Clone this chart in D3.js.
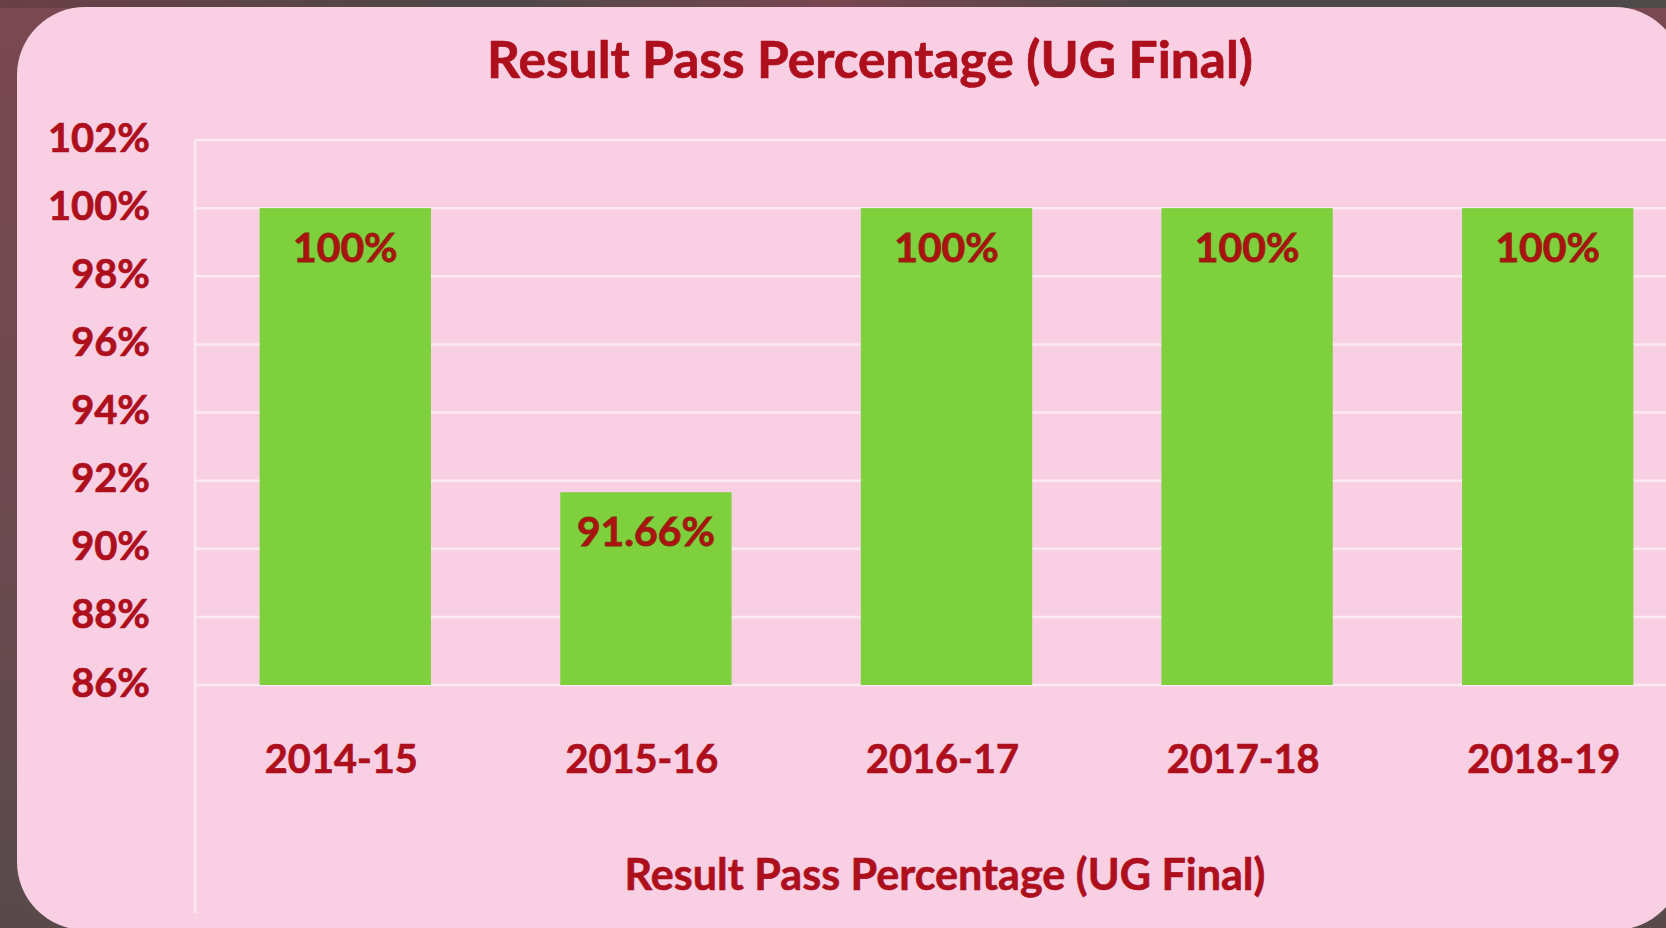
<!DOCTYPE html>
<html>
<head>
<meta charset="utf-8">
<script src="https://cdn.jsdelivr.net/npm/d3@7"></script>
<style>
  html, body { margin: 0; padding: 0; background: #5a4848; }
  svg { display: block; }
</style>
</head>
<body>
<svg id="chart" width="1666" height="928"></svg>
<script>
const categories = ["2014-15", "2015-16", "2016-17", "2017-18", "2018-19"];
const values = [1.00, 0.9166, 1.00, 1.00, 1.00];
const valueLabels = ["100%", "91.66%", "100%", "100%", "100%"];
const yTicks = [0.86, 0.88, 0.90, 0.92, 0.94, 0.96, 0.98, 1.00, 1.02];
const titleText = "Result Pass Percentage (UG Final)";
const axisTitleText = "Result Pass Percentage (UG Final)";

(function () {
const W = 1666, H = 928;
const svg = d3.select("#chart");
const FONT = "Lato, 'Open Sans', sans-serif";
const RED = "#ae0f1c";

// background gradient behind card
const defs = svg.append("defs");
const bg = defs.append("linearGradient").attr("id", "bg").attr("x1", 0).attr("y1", 0).attr("x2", 0).attr("y2", 1);
bg.append("stop").attr("offset", "0%").attr("stop-color", "#7a4850");
bg.append("stop").attr("offset", "55%").attr("stop-color", "#6c4a50");
bg.append("stop").attr("offset", "100%").attr("stop-color", "#584a4a");
svg.append("rect").attr("width", W).attr("height", H).attr("fill", "url(#bg)");
const topGrad = defs.append("linearGradient").attr("id", "topbg").attr("x1", 0).attr("y1", 0).attr("x2", 1).attr("y2", 0);
topGrad.append("stop").attr("offset", "0%").attr("stop-color", "#6a3f46");
topGrad.append("stop").attr("offset", "30%").attr("stop-color", "#4e4848");
topGrad.append("stop").attr("offset", "50%").attr("stop-color", "#7a4650");
topGrad.append("stop").attr("offset", "70%").attr("stop-color", "#4e4848");
topGrad.append("stop").attr("offset", "100%").attr("stop-color", "#4e4a4a");
svg.append("rect").attr("width", W).attr("height", 8).attr("fill", "url(#topbg)");

// card
svg.append("rect")
  .attr("x", 17).attr("y", 7).attr("width", 1666).attr("height", 923)
  .attr("rx", 68).attr("ry", 68)
  .attr("fill", "#f9cfe4");

// scales
const x = d3.scaleBand().domain(categories).range([195, 1698]).paddingInner(0.43).paddingOuter(0.215);
const y = d3.scaleLinear().domain([0.86, 1.02]).range([685, 140]);

// fit font size by target width
function fitSize(text, target) {
  const t = svg.append("text").attr("font-family", FONT).attr("font-weight", 700).attr("font-size", 100).text(text);
  const w = t.node().getComputedTextLength();
  t.remove();
  return 100 * target / w;
}
const tickSize = fitSize("102%", 102);
const xTickSize = fitSize("2018-19", 153);
const dataSize = fitSize("91.66%", 138);
const titleSize = fitSize(titleText, 766);
const axisTitleSize = fitSize(axisTitleText, 641);

// gridlines
const gridColor = "#fce9f2";
svg.append("g").selectAll("line").data(yTicks).join("line")
  .attr("x1", 195).attr("x2", 1698)
  .attr("y1", d => y(d)).attr("y2", d => y(d))
  .attr("stroke", gridColor).attr("stroke-width", 2.5);
// left plot border
svg.append("line").attr("x1", 195).attr("x2", 195).attr("y1", y(1.02)).attr("y2", 913)
  .attr("stroke", gridColor).attr("stroke-width", 2.5);

// y axis labels
const yAxis = d3.axisLeft(y).tickValues(yTicks).tickFormat(d3.format(".0%")).tickSize(0).tickPadding(0);
const gy = svg.append("g").attr("transform", "translate(150,0)").call(yAxis);
gy.select(".domain").remove();
gy.selectAll("text")
  .attr("font-family", FONT).attr("font-weight", 700).attr("font-size", tickSize)
  .attr("fill", RED).attr("stroke", RED).attr("stroke-width", 0.7)
  .attr("dy", null).attr("dominant-baseline", "central").attr("y", -4.5);

// bars
svg.append("g").selectAll("rect").data(values).join("rect")
  .attr("x", (d, i) => x(categories[i]))
  .attr("width", x.bandwidth())
  .attr("y", d => y(d))
  .attr("height", d => y(0.86) - y(d))
  .attr("fill", "#7ed13d");

// data labels
svg.append("g").selectAll("text").data(values).join("text")
  .attr("x", (d, i) => x(categories[i]) + x.bandwidth() / 2)
  .attr("y", d => y(d) + 54)
  .attr("text-anchor", "middle")
  .attr("font-family", FONT).attr("font-weight", 700).attr("font-size", dataSize)
  .attr("fill", "#ad1210").attr("stroke", "#8a2a10").attr("stroke-width", 0.9)
  .text((d, i) => valueLabels[i]);

// x axis labels
const xAxis = d3.axisBottom(x).tickSize(0).tickPadding(0);
const gx = svg.append("g").attr("transform", "translate(-4,773)").call(xAxis);
gx.select(".domain").remove();
gx.selectAll("text")
  .attr("font-family", FONT).attr("font-weight", 700).attr("font-size", xTickSize)
  .attr("fill", RED).attr("stroke", RED).attr("stroke-width", 0.7)
  .attr("dy", null).attr("y", 0);

// title
svg.append("text").attr("x", 870).attr("y", 78).attr("text-anchor", "middle")
  .attr("font-family", FONT).attr("font-weight", 700).attr("font-size", titleSize)
  .attr("fill", RED).attr("stroke", RED).attr("stroke-width", 0.7).text(titleText);

// axis title
svg.append("text").attr("x", 945).attr("y", 890).attr("text-anchor", "middle")
  .attr("font-family", FONT).attr("font-weight", 700).attr("font-size", axisTitleSize)
  .attr("fill", RED).attr("stroke", RED).attr("stroke-width", 0.6).text(axisTitleText);
})();
</script>
</body>
</html>
